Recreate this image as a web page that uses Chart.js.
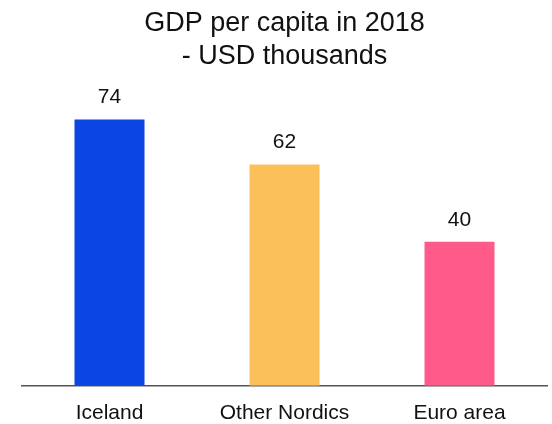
<!DOCTYPE html>
<html>
<head>
<meta charset="utf-8">
<script src="https://cdn.jsdelivr.net/npm/chart.js@4"></script>
<style>
  html, body { margin: 0; padding: 0; background: #fff; }
  #wrap { width: 552px; height: 424px; }
</style>
</head>
<body>
<div id="wrap"><canvas id="chart"></canvas></div>
<script>
const categories = ['Iceland', 'Other Nordics', 'Euro area'];
const gdpValues = [74, 61.5, 40];
const barColors = ['#0b45e3', '#fbc05a', '#ff5a8a'];
const titleLines = ['GDP per capita in 2018', '- USD thousands'];

const FONT = "'Liberation Sans', Arial, sans-serif";

const valueLabels = {
  id: 'valueLabels',
  afterDatasetsDraw(chart) {
    const ctx = chart.ctx;
    const meta = chart.getDatasetMeta(0);
    ctx.save();
    ctx.font = '21px ' + FONT;
    ctx.fillStyle = '#111';
    ctx.textAlign = 'center';
    ctx.textBaseline = 'alphabetic';
    meta.data.forEach((bar, i) => {
      ctx.fillText(gdpValues[i].toFixed(0), bar.x, bar.y - 16);
    });
    ctx.restore();
  }
};

function createChart(ctx, config) {
  return new Chart(ctx, config);
}

createChart(document.getElementById('chart'), {
  type: 'bar',
  data: {
    labels: categories,
    datasets: [{
      data: gdpValues,
      backgroundColor: barColors,
      borderWidth: 0,
      barPercentage: 0.5,
      categoryPercentage: 0.8
    }]
  },
  options: {
    responsive: true,
    maintainAspectRatio: false,
    animation: false,
    // ticks.padding counts twice in the axis height, so pull the bottom back in
    layout: { padding: { left: 22, right: 5, top: 0, bottom: -17 } },
    plugins: {
      legend: { display: false },
      tooltip: { enabled: false },
      title: {
        display: true,
        text: titleLines,
        color: '#111',
        font: { family: FONT, size: 27, weight: 'normal', lineHeight: 1.22 },
        padding: { top: 7, bottom: 25 }
      }
    },
    scales: {
      x: {
        grid: { display: false, drawTicks: false },
        border: { display: true, color: '#555', width: 1.5 },
        ticks: { color: '#111', font: { family: FONT, size: 21 }, padding: 15 }
      },
      y: {
        display: false,
        min: 0,
        max: 80
      }
    }
  },
  plugins: [valueLabels]
});
</script>
</body>
</html>
